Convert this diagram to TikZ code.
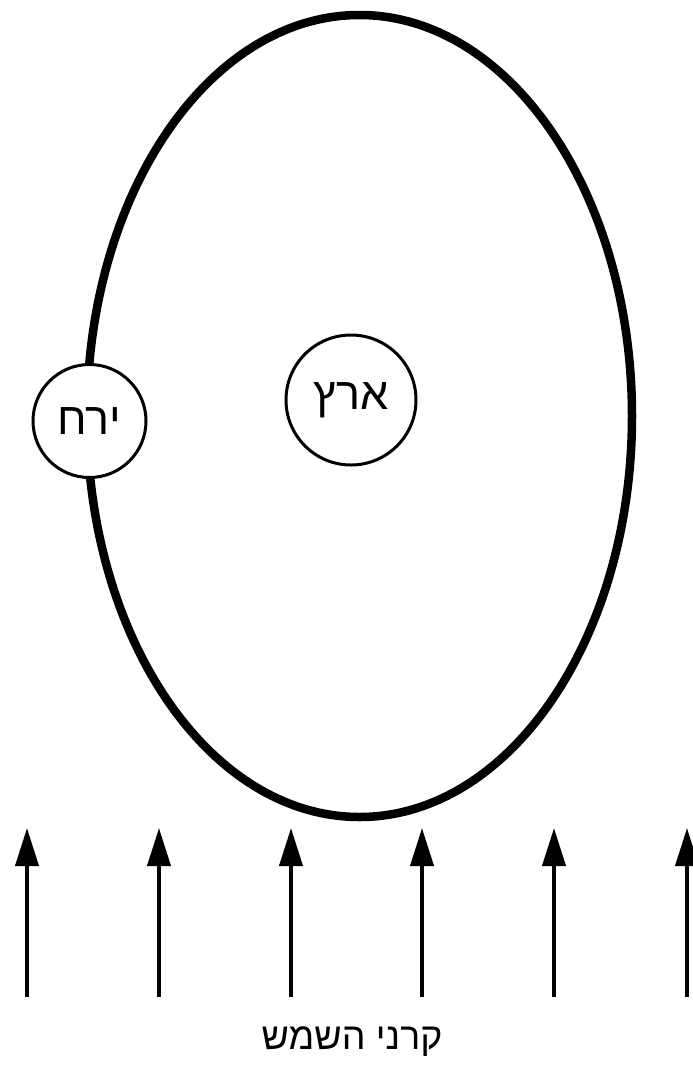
\documentclass[tikz,border=0pt]{standalone}
\usepackage{fontspec}
\setmainfont{Liberation Sans}
\newfontfamily\hebfont[Script=Hebrew]{Liberation Sans}
\TeXXeTstate=1
\usetikzlibrary{arrows.meta,shapes.geometric}
\tikzset{
  orbitline/.style={draw, line width=8.5pt, ellipse, inner sep=0pt, minimum width=545pt, minimum height=802pt},
  body/.style={draw, circle, line width=3pt, fill=white, inner sep=0pt, font=\hebfont\fontsize{45}{48}\selectfont},
  ray/.style={line width=4pt, -{Triangle[length=38pt,width=23pt]}},
  lbl/.style={font=\hebfont\fontsize{37.5}{42}\selectfont, inner sep=0pt}
}
\begin{document}
\begin{tikzpicture}[x=1pt,y=-1pt]
\useasboundingbox (0,0) rectangle (693,1066);
\node[orbitline] (orbit) at (359.5,416) {};
\node[body, minimum size=113pt] (moon) at (89.5,421) {\beginR ירח\endR};
\node[body, minimum size=130pt] (earth) at (351,400) {\beginR ארץ\endR};
\foreach \i/\x in {1/27,2/159,3/291,4/422,5/554,6/687}{
  \coordinate (b\i) at (\x,997);
  \coordinate (t\i) at (\x,828);
  \draw[ray] (b\i) -- (t\i);
}
\node[lbl] (sun) at (352,1042) {\beginR קרני השמש\endR};
\end{tikzpicture}
\end{document}
